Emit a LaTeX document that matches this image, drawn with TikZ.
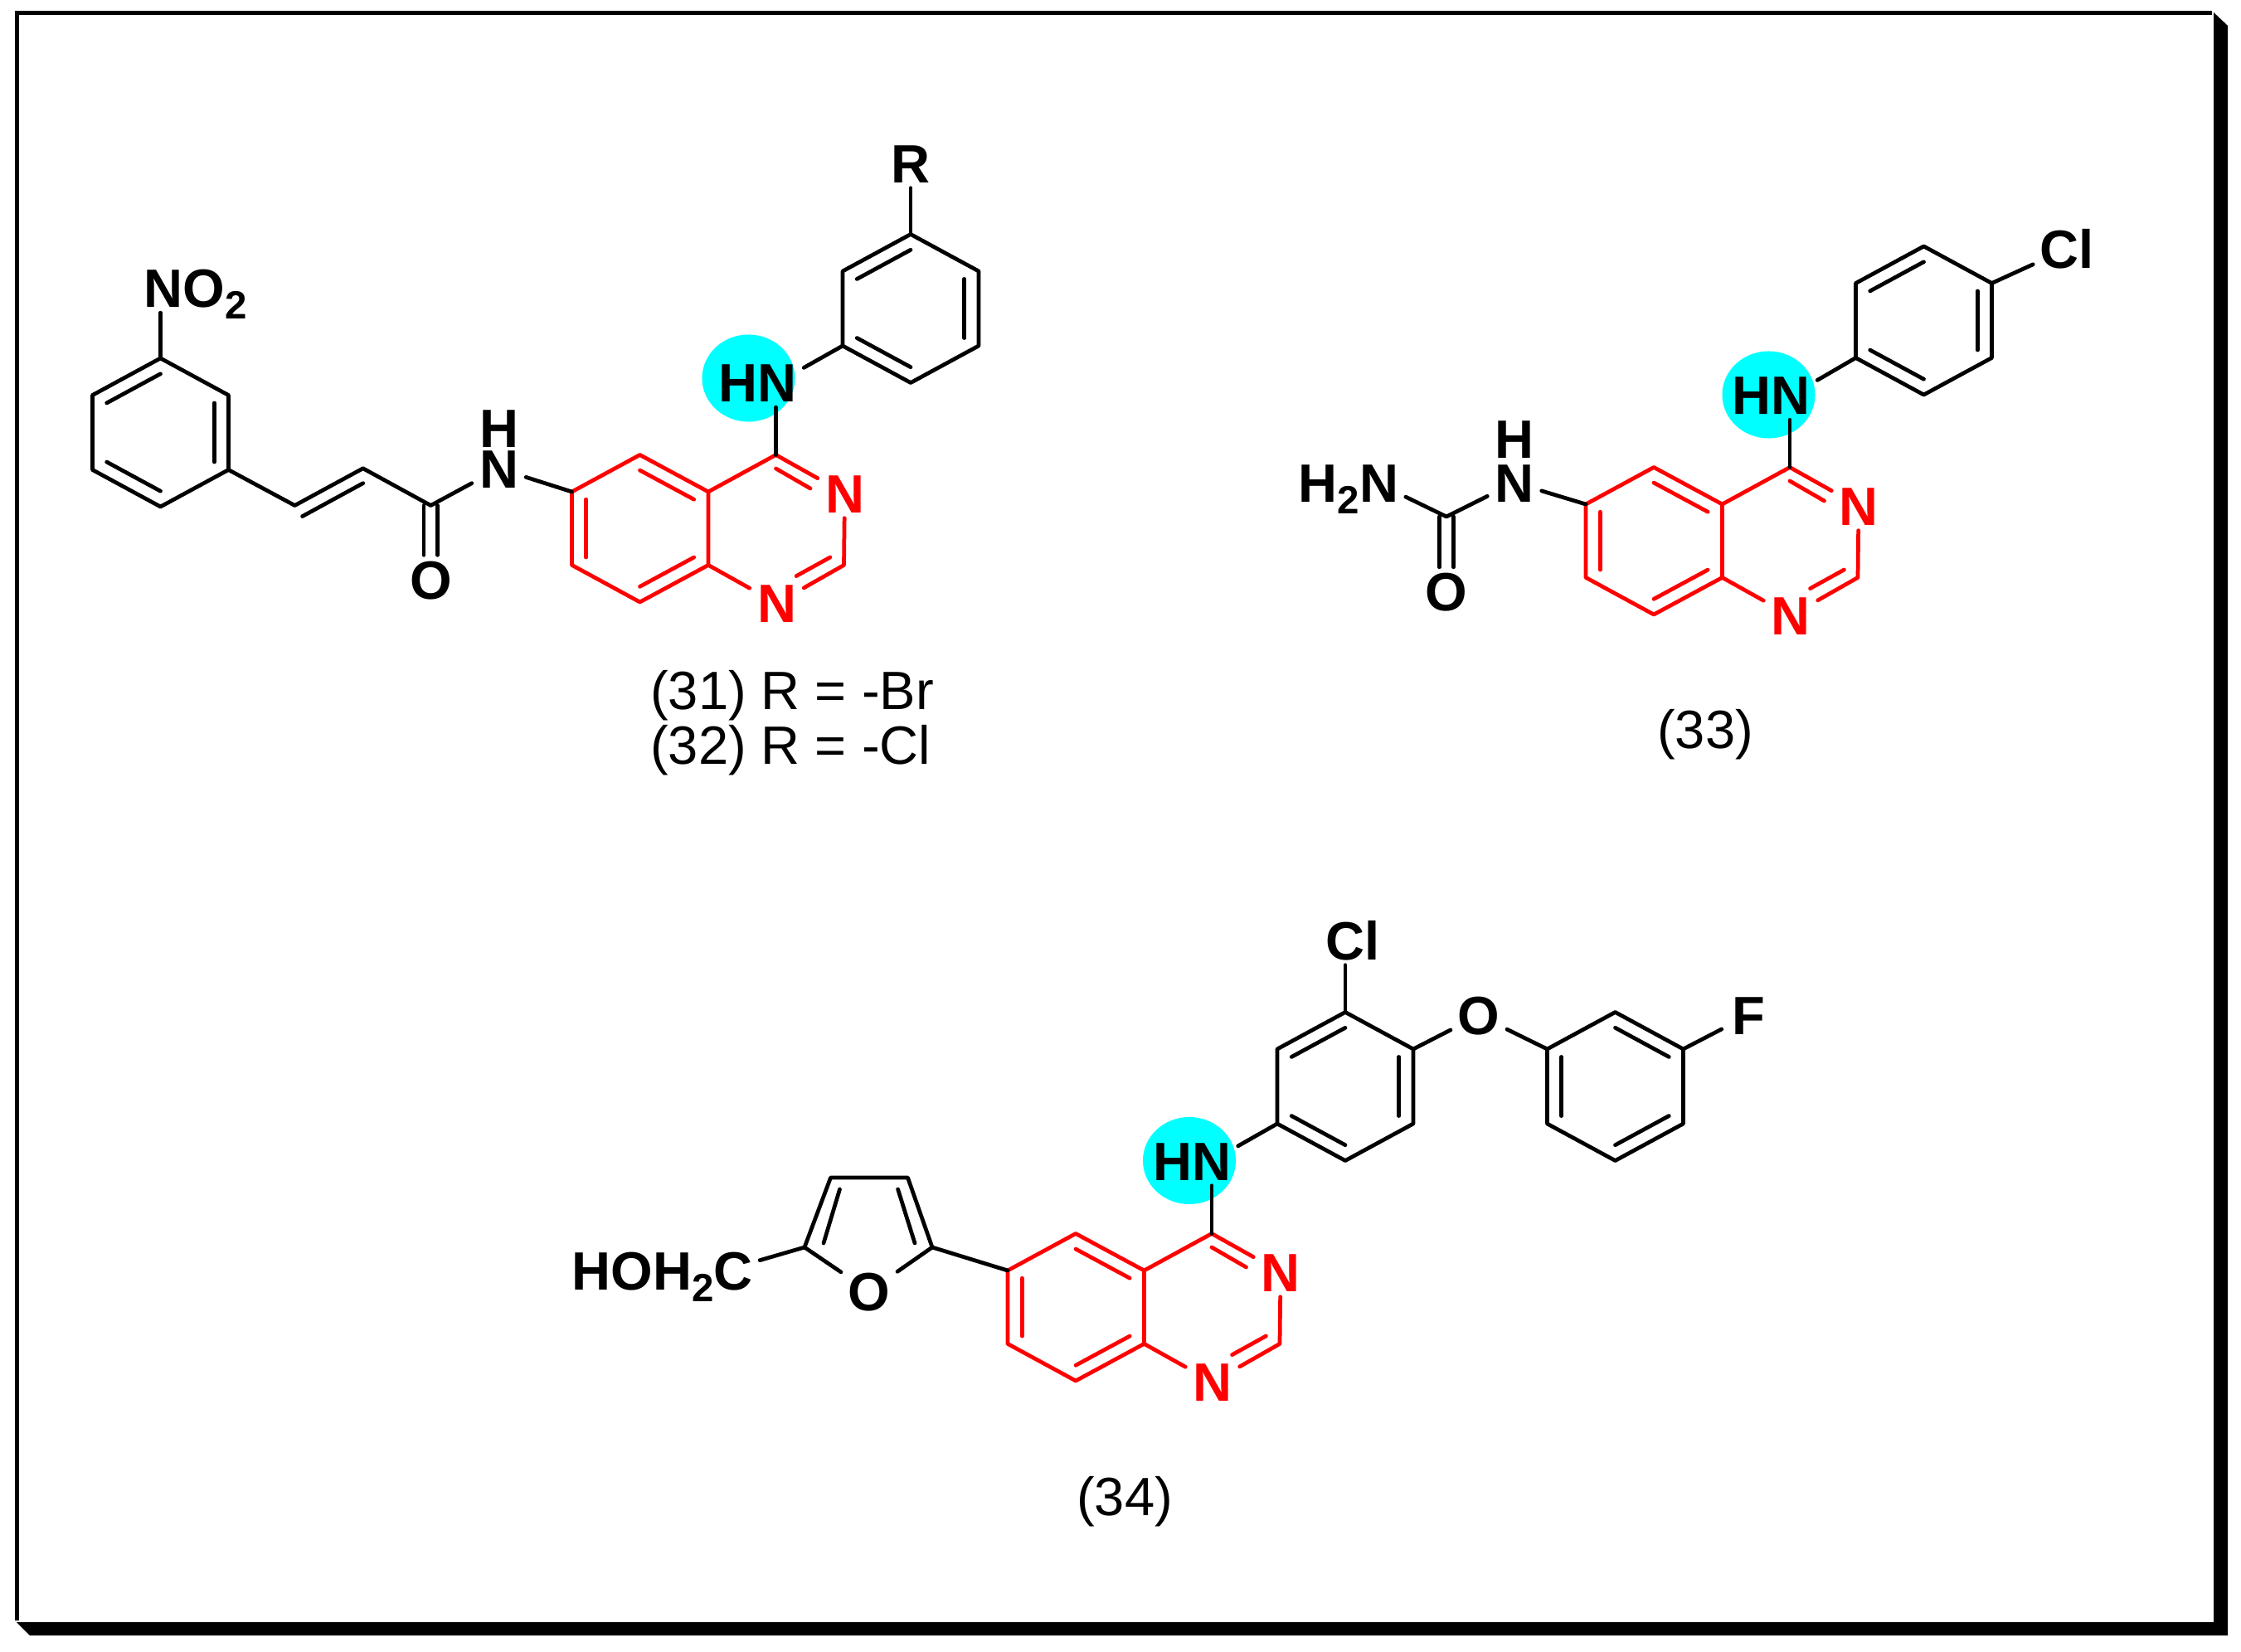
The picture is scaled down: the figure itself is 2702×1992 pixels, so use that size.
\documentclass[tikz,border=0pt]{standalone}
\usepackage{fontspec}
\setmainfont{Liberation Sans}
\usepackage{tikz}
\usetikzlibrary{calc,
                shapes.geometric}
\definecolor{hncyan}{RGB}{0,255,255}
\definecolor{qred}{RGB}{255,0,0}
\newcommand{\subtwo}{\raisebox{-0.14cm}{\fontsize{13.5}{14}\selectfont 2}}
\tikzset{
  bond/.style={line width=1.35pt, line cap=round, line join=round},
  qbond/.style={bond, draw=qred},
  atom/.style={font=\fontsize{18.5}{20}\selectfont\bfseries, inner ysep=0pt, inner xsep=0.08cm,
    minimum width=0.64cm, minimum height=0.58cm, text height=0.46cm, text depth=0pt},
  hatom/.style={atom, minimum height=0.38cm, text height=0.38cm},
  qatom/.style={atom, text=qred},
  tag/.style={font=\fontsize{18.5}{20}\selectfont, inner sep=0pt, text height=0.46cm, text depth=0pt},
  hnspot/.style={ellipse, fill=hncyan, inner sep=0pt, minimum width=1.12cm, minimum height=1.05cm}
}
\begin{document}
\begin{tikzpicture}[x=0.01cm, y=-0.01cm]
\useasboundingbox (0,0) rectangle (2702,1992);
\fill (2669,15) -- (2686,31) -- (2686,1972) -- (36,1972) -- (20,1956) -- (2669,1956) -- cycle;
\draw[line width=1.42pt] (20.5,1954) -- (20.5,15.5) -- (2667,15.5);

\foreach \rg/\cx/\cy in {ra/193.5/521.5, rb/1098/372, rc/2319.5/386.5, rd/1622/1310, re/1947.5/1310}{
  \coordinate (\rg0) at (\cx,\cy);
  \coordinate (\rg1) at (\cx,\cy-89.5);
  \coordinate (\rg2) at (\cx+82,\cy-45);
  \coordinate (\rg3) at (\cx+82,\cy+45);
  \coordinate (\rg4) at (\cx,\cy+89.5);
  \coordinate (\rg5) at (\cx-82,\cy+45);
  \coordinate (\rg6) at (\cx-82,\cy-45);
  \draw[bond] (\rg1) -- (\rg2) -- (\rg3) -- (\rg4) -- (\rg5) -- (\rg6) -- cycle;
}
\foreach \rg in {ra,rb,rc,rd}{
  \foreach \u/\v in {6/1,2/3,4/5}
    \draw[bond] ($(\rg0)!.79!(\rg\u)$) -- ($(\rg0)!.79!(\rg\v)$);
}
\foreach \u/\v in {1/2,3/4,5/6}
  \draw[bond] ($(re0)!.79!(re\u)$) -- ($(re0)!.79!(re\v)$);

\foreach \q/\qx/\qy/\sx/\sy/\hx/\hy/\rg in {a/-3.5/-1/902.5/456/913.5/461.5/rb, b/1219/14/2132.5/476/2135.5/476.5/rc, c/522/938/1434/1399.5/1437/1400/rd}{
  \node[hnspot] (\q spot) at (\sx,\sy) {};
  \begin{scope}[shift={(\qx,\qy)}]
  \coordinate (\q cb) at (775,638);
  \coordinate (\q c5) at (775,549.5);
  \coordinate (\q c4a) at (857.5,594);
  \coordinate (\q c8a) at (857.5,682.4);
  \coordinate (\q c8) at (775,727);
  \coordinate (\q c7) at (693,682.4);
  \coordinate (\q c6) at (693,594);
  \coordinate (\q c4) at (939,549.5);
  \coordinate (\q c2) at (1021,682.4);
  \coordinate (\q da) at (939,566);
  \coordinate (\q db) at (980.5,590);
  \coordinate (\q dc) at (963.6,695.6);
  \coordinate (\q dd) at (1004.4,673);
  \node[qatom] (\q n3) at (1022,596) {N};
  \node[qatom] (\q n1) at (940,728.5) {N};
  \end{scope}
  \draw[qbond] (\q c6) -- (\q c5) -- (\q c4a) -- (\q c8a) -- (\q c8) -- (\q c7) -- cycle;
  \draw[qbond] (\q c4a) -- (\q c4) -- (\q n3) -- (\q c2) -- (\q n1) -- (\q c8a);
  \draw[qbond] ($(\q cb)!.79!(\q c5)$) -- ($(\q cb)!.79!(\q c4a)$);
  \draw[qbond] ($(\q cb)!.79!(\q c8a)$) -- ($(\q cb)!.79!(\q c8)$);
  \draw[qbond] ($(\q cb)!.79!(\q c7)$) -- ($(\q cb)!.79!(\q c6)$);
  \draw[qbond] (\q da) -- (\q db);
  \draw[qbond] (\q dc) -- (\q dd);
  \node[atom] (\q hn) at (\hx,\hy) {HN};
  \draw[bond] (\q c4) -- (\q c4 |- \q hn.south);
  \draw[bond] (\rg5) -- (\q hn.18);
}

\node[atom] (no) at (235.5,347.5) {NO\subtwo};
\draw[bond] (ra1) -- (ra1 |- no.south);
\coordinate (ab) at (355.4,609.5);
\coordinate (ac) at (437.7,564.8);
\coordinate (ad) at (519.4,609.5);
\coordinate (ae) at (364.6,622.6);
\coordinate (af) at (437.7,582.7);
\node[hatom] (ah) at (602,520) {H};
\node[atom] (an) at (601.5,565) {N};
\node[atom] (ao) at (519.5,699) {O};
\draw[bond] (ra3) -- (ab) -- (ac) -- (ad) -- (an) -- (ac6);
\draw[bond] (ae) -- (af);
\draw[bond] ($(ad)+(-8.3,0)$) -- ($(ad |- ao.north)+(-8.3,0)$);
\draw[bond] ($(ad)+(8.3,0)$) -- ($(ad |- ao.north)+(8.3,0)$);
\node[atom] (rr) at (1098,197) {R};
\draw[bond] (rb1) -- (rr);
\node[tag, anchor=west] (t31) at (783.5,832.5) {(31) R = -Br};
\node[tag, anchor=west] (t32) at (783.5,898.5) {(32) R = -Cl};

\node[atom] (bcl) at (2492.5,300) {Cl};
\draw[bond] (rc2) -- (bcl);
\coordinate (bc) at (1744,623);
\node[hatom] (bh) at (1826,533) {H};
\node[atom] (bn) at (1826,582) {N};
\node[atom] (bh2n) at (1626,582) {H\subtwo N};
\node[atom] (bo) at (1744,713.5) {O};
\draw[bond] (bh2n.-14) -- (bc) -- (bn) -- (bc6);
\draw[bond] ($(bc)+(-8.7,0)$) -- ($(bc |- bo.north)+(-8.7,0)$);
\draw[bond] ($(bc)+(8.7,0)$) -- ($(bc |- bo.north)+(8.7,0)$);
\node[tag] (t33) at (2056,879.5) {(33)};

\node[atom] (ccl) at (1631,1134) {Cl};
\draw[bond] (rd1) -- (rd1 |- ccl.south);
\node[atom] (co) at (1783,1224.5) {O};
\draw[bond] (rd2) -- (co) -- (re6);
\node[atom] (cf) at (2108.5,1224) {F};
\draw[bond] (re2) -- (cf);
\coordinate (fa) at (970,1504);
\coordinate (fb) at (1001.5,1420);
\coordinate (fc) at (1094.5,1420);
\coordinate (fd) at (1124,1504);
\node[atom] (fo) at (1048,1557) {O};
\node[atom] (hoh) at (798.5,1532) {HOH\subtwo C};
\draw[bond] (fo) -- (fa) -- (fb) -- (fc) -- (fd) -- (fo);
\draw[bond] (993,1499) -- (1012.5,1434);
\draw[bond] (1082.6,1434) -- (1103,1499);
\draw[bond] (hoh.6) -- (fa);
\draw[bond] (fd) -- (cc6);
\node[tag] (t34) at (1356,1804) {(34)};
\end{tikzpicture}
\end{document}
